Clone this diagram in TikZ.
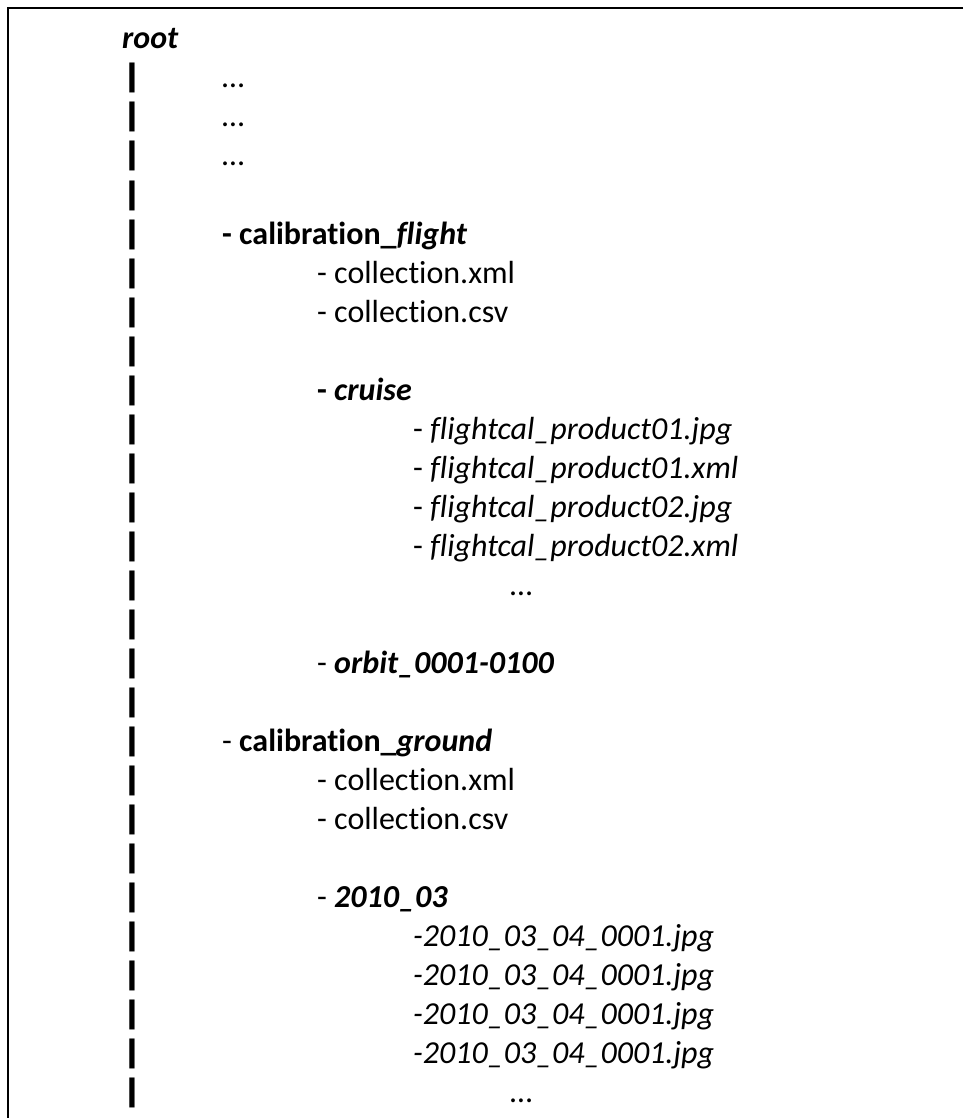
\documentclass[tikz,border=0pt]{standalone}
\usepackage{fontspec}
\setmainfont{Carlito}[Ligatures={NoCommon}]

\begin{document}
\begin{tikzpicture}[x=1pt, y=1pt,
  entry/.style={anchor=base west, inner sep=0pt, font=\fontsize{32}{39}\selectfont},
  barmark/.style={anchor=base, inner sep=0pt, font=\fontsize{32}{39}\selectfont\bfseries},
]
  \useasboundingbox (0,0) rectangle (963,-1118);
  \coordinate (TL) at (8,-8);
  \coordinate (TR) at (963,-8);
  \coordinate (BL) at (8,-1118);
  \draw[line width=2.5pt, line join=miter] (TR) -- (TL) -- (BL);
  % 竖线
  \foreach \i in {1,...,27}
    \node[barmark] (bar\i) at (132,{-49-39*\i}) {\scalebox{1.7}[1.05]{|}};
  \node[entry] (root) at (122,-49) {\textbf{\textit{root}}};
  \node[entry] (dotsa) at (222,-88)  {…};
  \node[entry] (dotsb) at (222,-127) {…};
  \node[entry] (dotsc) at (222,-166) {…};
  \node[entry] (calflight) at (222,-244) {\textbf{- calibration\_\textit{flight}}};
  \node[entry] (fxml) at (317,-283) {- collection.xml};
  \node[entry] (fcsv) at (317,-322) {- collection.csv};
  \node[entry] (cruise) at (317,-400) {\textbf{- \textit{cruise}}};
  \node[entry] (prodA) at (413,-439) {- \textit{flightcal\_product01.jpg}};
  \node[entry] (prodB) at (413,-478) {- \textit{flightcal\_product01.xml}};
  \node[entry] (prodC) at (413,-517) {- \textit{flightcal\_product02.jpg}};
  \node[entry] (prodD) at (413,-556) {- \textit{flightcal\_product02.xml}};
  \node[entry] (prodmore) at (510,-595) {…};
  \node[entry] (orbit) at (317,-673) {- \textbf{\textit{orbit\_0001-0100}}};
  \node[entry] (calground) at (222,-751) {- \textbf{calibration\_\textit{ground}}};
  \node[entry] (gxml) at (317,-790) {- collection.xml};
  \node[entry] (gcsv) at (317,-829) {- collection.csv};
  \node[entry] (month) at (317,-907) {- \textbf{\textit{2010\_03}}};
  \node[entry] (imgA) at (413,-946)  {\textit{-2010\_03\_04\_0001.jpg}};
  \node[entry] (imgB) at (413,-985)  {\textit{-2010\_03\_04\_0001.jpg}};
  \node[entry] (imgC) at (413,-1024) {\textit{-2010\_03\_04\_0001.jpg}};
  \node[entry] (imgD) at (413,-1063) {\textit{-2010\_03\_04\_0001.jpg}};
  \node[entry] (imgmore) at (510,-1102) {…};
\end{tikzpicture}
\end{document}
